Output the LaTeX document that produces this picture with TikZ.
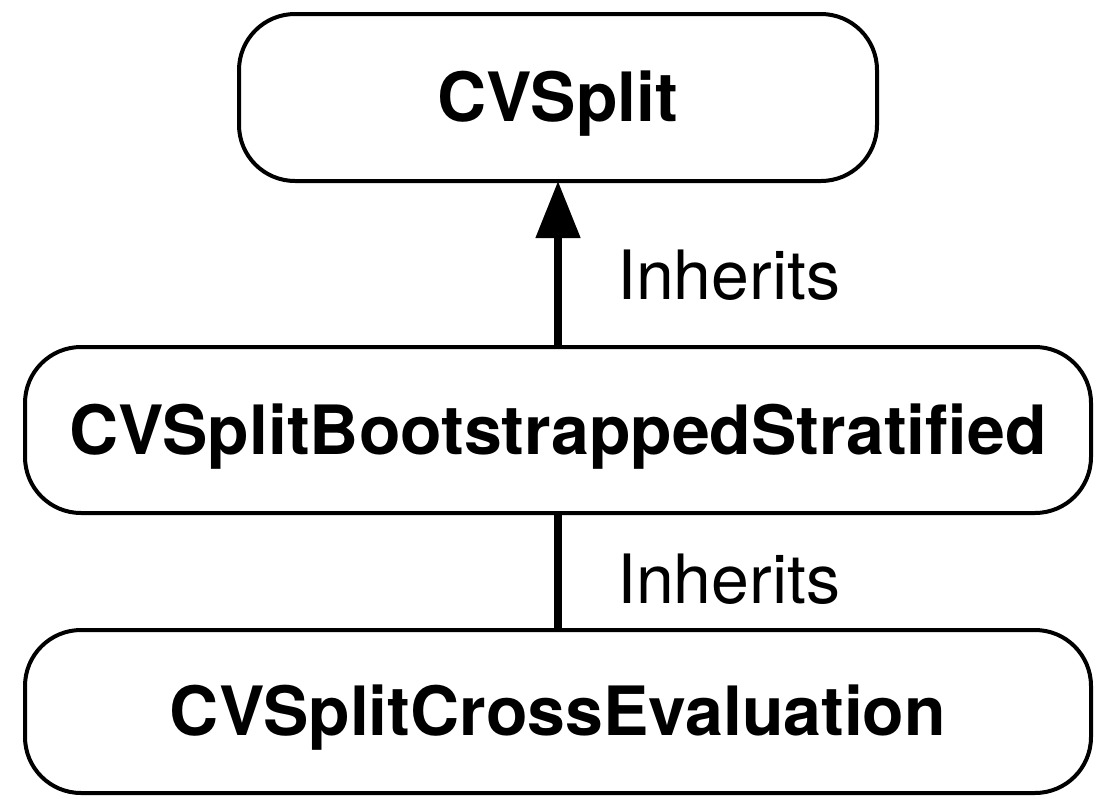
\documentclass[tikz,border=0pt]{standalone}
\usepackage{fontspec}
\setmainfont{TeX Gyre Heros}
\usetikzlibrary{arrows.meta}
\begin{document}
\begin{tikzpicture}[x=1pt,y=-1pt,
  classbox/.style={draw=black,line width=4pt,rounded corners=56pt,fill=white,
    inner sep=0pt,text height=48.5pt,text depth=0pt,
    font=\fontsize{68}{80}\selectfont\bfseries},
  relation/.style={line width=8pt},
  inherit/.style={relation,-{Triangle[length=57pt,width=43pt]}},
  rellabel/.style={anchor=base west,inner sep=0pt,font=\fontsize{68}{80}\selectfont}]
  \useasboundingbox (0,0) rectangle (1099,798);
  % class boxes
  \node[classbox,minimum width=638pt,minimum height=167pt] (base) at (558,97.5) {CVSplit};
  \node[classbox,minimum width=1066pt,minimum height=166pt] (boot) at (558,430) {CVSplitBootstrappedStratified};
  \node[classbox,minimum width=1066pt,minimum height=163pt] (cross) at (558,711.5) {CVSplitCrossEvaluation};
  % inheritance links
  \draw[inherit] (boot.north) -- ([yshift=2pt]base.south);
  \draw[relation] (cross.north) -- (boot.south);
  % link labels
  \node[rellabel] (lab1) at (617,299) {Inherits};
  \node[rellabel] (lab2) at (617,603) {Inherits};
\end{tikzpicture}
\end{document}
